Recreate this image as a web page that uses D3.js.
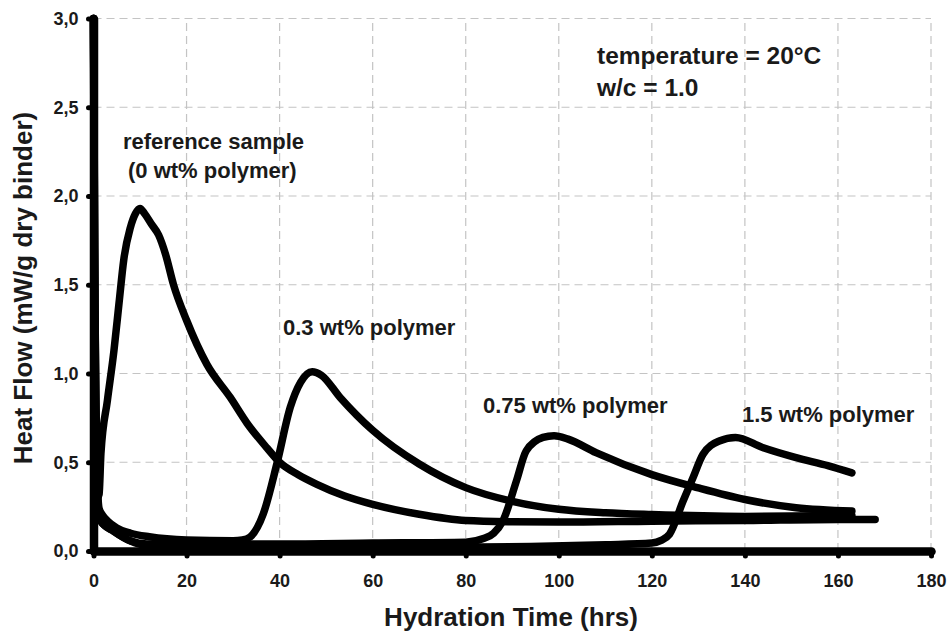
<!DOCTYPE html>
<html>
<head>
<meta charset="utf-8">
<script src="https://cdn.jsdelivr.net/npm/d3@7"></script>
<style>
    body { margin: 0; background: #fff; }
    svg { display: block; font-family: "Liberation Sans", Arial, sans-serif; }
</style>
</head>
<body>
<div id="chart"></div>
<script>
// values (hours, mW/g dry binder)
const refTime = [0, 0.35, 0.8, 1.2, 1.6, 3, 4.4, 5.5, 6.5, 7.9, 9, 10, 11, 12.5, 14, 15.5, 17.2, 20, 24.4, 29.4, 33, 37.3, 40, 44, 48, 54, 60, 70, 80, 90, 100, 120, 140, 160, 168];
const refFlow = [3.0, 1.3, 0.3, 0.32, 0.55, 0.85, 1.13, 1.4, 1.64, 1.82, 1.9, 1.93, 1.9, 1.84, 1.78, 1.67, 1.5, 1.3, 1.05, 0.865, 0.72, 0.58, 0.5, 0.43, 0.376, 0.31, 0.263, 0.207, 0.172, 0.165, 0.163, 0.168, 0.172, 0.178, 0.178];

const p03Time = [0, 0.3, 0.7, 1.2, 2, 3, 5, 8, 12, 20, 30, 32, 33.7, 36.5, 39.4, 42.3, 44.5, 47, 49, 53, 60, 70, 80, 90, 100, 110, 120, 140, 163];
const p03Flow = [3.0, 1.4, 0.5, 0.24, 0.2, 0.17, 0.13, 0.1, 0.08, 0.062, 0.058, 0.062, 0.08, 0.21, 0.49, 0.81, 0.95, 1.01, 0.99, 0.865, 0.68, 0.49, 0.357, 0.28, 0.235, 0.215, 0.205, 0.195, 0.2];

const p075Time = [0, 0.2, 0.6, 1.5, 4.4, 8, 11.5, 20, 40, 60, 80, 83.8, 86, 88, 90.9, 93, 96.6, 99, 102, 108, 120, 130, 140, 151, 163];
const p075Flow = [3.0, 1.4, 0.4, 0.17, 0.11, 0.056, 0.04, 0.04, 0.04, 0.045, 0.05, 0.07, 0.1, 0.17, 0.395, 0.564, 0.64, 0.65, 0.63, 0.554, 0.43, 0.355, 0.29, 0.244, 0.225];

const p15Time = [0, 0.2, 0.6, 1.5, 4.4, 8, 11.5, 20, 40, 60, 80, 94, 110, 120, 122, 123.8, 126.7, 128.8, 131, 134.5, 138, 143.8, 151, 158, 163];
const p15Flow = [3.0, 1.4, 0.4, 0.17, 0.11, 0.056, 0.03, 0.02, 0.02, 0.02, 0.022, 0.025, 0.035, 0.045, 0.06, 0.094, 0.28, 0.41, 0.545, 0.62, 0.64, 0.583, 0.526, 0.48, 0.44];

const xTicks = [0, 20, 40, 60, 80, 100, 120, 140, 160, 180];
const yTicks = [0, 0.5, 1.0, 1.5, 2.0, 2.5, 3.0];

const seriesLabels = ["reference sample", "(0 wt% polymer)", "0.3 wt% polymer", "0.75 wt% polymer", "1.5 wt% polymer"];
const noteLines = ["temperature = 20°C", "w/c = 1.0"];

const width = 951, height = 631;

const svg = d3.select("#chart").append("svg")
    .attr("width", width)
    .attr("height", height);

const x = d3.scaleLinear().domain([0, 180]).range([93.5, 931]);
const y = d3.scaleLinear().domain([0, 3]).range([551, 18.5]);

const comma = d3.formatLocale({decimal: ",", thousands: ".", grouping: [3], currency: ["", ""]}).format(".1f");

// dashed grid
const grid = svg.append("g").attr("stroke", "#c4c4c4").attr("stroke-width", 1.2).attr("stroke-dasharray", "8,5");
grid.selectAll(".gh")
    .data(yTicks.filter(d => d > 0))
    .enter().append("line")
    .attr("x1", x(0)).attr("x2", x(180))
    .attr("y1", d => y(d)).attr("y2", d => y(d));
grid.selectAll(".gv")
    .data(xTicks.filter(d => d > 0))
    .enter().append("line")
    .attr("x1", d => x(d)).attr("x2", d => x(d))
    .attr("y1", y(0)).attr("y2", y(3));

// curves
const series = [
    [refTime, refFlow],
    [p03Time, p03Flow],
    [p075Time, p075Flow],
    [p15Time, p15Flow]
];

const line = d3.line()
    .x(d => x(d[0]))
    .y(d => y(d[1]))
    .curve(d3.curveMonotoneX);

svg.selectAll(".curve")
    .data(series)
    .enter().append("path")
    .attr("class", "curve")
    .attr("d", s => line(s[0].map((t, i) => [t, s[1][i]])))
    .attr("fill", "none")
    .attr("stroke", "#000")
    .attr("stroke-width", 7.5)
    .attr("stroke-linecap", "round")
    .attr("stroke-linejoin", "round");

// axes
const xAxis = svg.append("g")
    .attr("transform", `translate(0,${y(0)})`)
    .call(d3.axisBottom(x).tickValues(xTicks).tickSize(5).tickSizeOuter(0).tickPadding(18));

const yAxis = svg.append("g")
    .attr("transform", `translate(${x(0)},0)`)
    .call(d3.axisLeft(y).tickValues(yTicks).tickSize(5).tickSizeOuter(0).tickPadding(10).tickFormat(comma));

[xAxis, yAxis].forEach(g => {
    g.select(".domain")
        .attr("stroke", "#000")
        .attr("stroke-width", 8.5)
        .attr("stroke-linecap", "round");
    g.selectAll(".tick line")
        .attr("stroke", "#000")
        .attr("stroke-width", 5)
        .attr("stroke-linecap", "round");
    g.selectAll(".tick text")
        .attr("fill", "#1a1a1a")
        .attr("font-size", 18)
        .attr("font-weight", "bold")
        .attr("font-family", "'Liberation Sans', Arial, sans-serif");
});

// axis titles
svg.append("text")
    .attr("x", 511)
    .attr("y", 626)
    .attr("text-anchor", "middle")
    .attr("font-size", 26)
    .attr("font-weight", "bold")
    .attr("fill", "#1a1a1a")
    .text("Hydration Time (hrs)");

svg.append("text")
    .attr("transform", "translate(32,288) rotate(-90)")
    .attr("text-anchor", "middle")
    .attr("font-size", 26)
    .attr("font-weight", "bold")
    .attr("fill", "#1a1a1a")
    .text("Heat Flow (mW/g dry binder)");

// annotations
const labelPos = [[123, 149], [128, 178], [283, 335], [483, 413], [742, 422]];
svg.selectAll(".lab")
    .data(seriesLabels)
    .enter().append("text")
    .attr("x", (d, i) => labelPos[i][0])
    .attr("y", (d, i) => labelPos[i][1])
    .attr("font-size", 22)
    .attr("font-weight", "bold")
    .attr("fill", "#1a1a1a")
    .text(d => d);

svg.selectAll(".note")
    .data(noteLines)
    .enter().append("text")
    .attr("x", 597)
    .attr("y", (d, i) => 64 + i * 32)
    .attr("font-size", 24.5)
    .attr("font-weight", "bold")
    .attr("fill", "#1a1a1a")
    .text(d => d);
</script>
</body>
</html>
